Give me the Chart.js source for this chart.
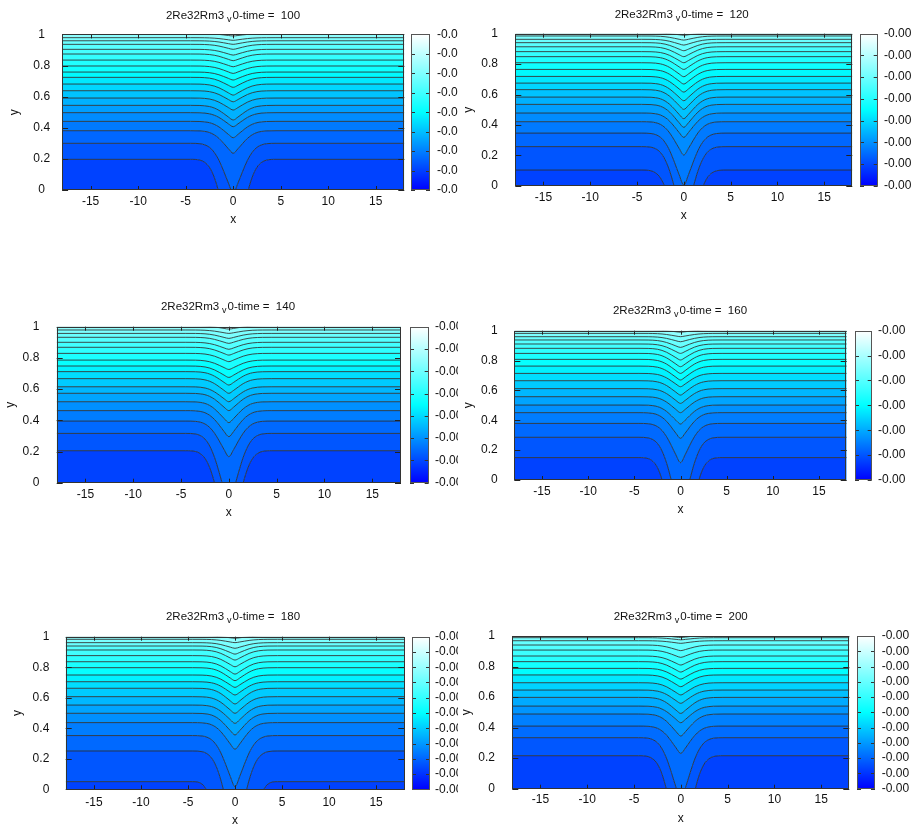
<!DOCTYPE html>
<html>
<head>
<meta charset="utf-8">
<script src="https://cdn.jsdelivr.net/npm/chart.js@4.4.1/dist/chart.umd.min.js"></script>
<style>
  html, body { margin: 0; padding: 0; background: #fff; }
  body { position: relative; width: 912px; height: 825px; overflow: hidden; font-family: "Liberation Sans", Arial, sans-serif; }
  canvas { position: absolute; }
  .title { position: absolute; font-size: 11.5px; color: #111; white-space: pre; transform: translate(-50%, -50%); line-height: 1; }
  .title sub { font-size: 9px; vertical-align: -3px; margin: 0 1px 0 3px; }
</style>
</head>
<body>
<script>
const runName = '2Re32Rm3';
const times = [100, 120, 140, 160, 180, 200];
const xTicks = [-15, -10, -5, 0, 5, 10, 15];
const yTicks = [0, 0.2, 0.4, 0.6, 0.8, 1];

// x positions of the contour points, and how much of the centre dip each point takes
const profileX = [-18, -4.5, -3.5, -3, -2.5, -2, -1.5, -1, -0.5, 0, 0.5, 1, 1.5, 2, 2.5, 3, 3.5, 4.5, 18];
const dipShape = [0, 0, 0.008, 0.03, 0.08, 0.18, 0.34, 0.56, 0.8, 1, 0.8, 0.56, 0.34, 0.18, 0.08, 0.03, 0.008, 0, 0];

// contour levels, bottom to top: y far from the centre and y at x = 0
const edge100 = [0.197, 0.300, 0.381, 0.441, 0.497, 0.544, 0.591, 0.638, 0.681, 0.724, 0.758, 0.797, 0.835, 0.874, 0.904, 0.936, 0.959, 0.979, 1.005];
const centre100 = [-0.44, -0.02, 0.236, 0.336, 0.407, 0.45, 0.514, 0.567, 0.61, 0.66, 0.707, 0.749, 0.792, 0.831, 0.867, 0.904, 0.936, 0.962, 0.99];

const edge120 = [0.103, 0.257, 0.346, 0.421, 0.478, 0.535, 0.583, 0.632, 0.675, 0.719, 0.765, 0.809, 0.849, 0.882, 0.914, 0.941, 0.963, 0.985, 1.005];
const centre120 = [-0.54, -0.22, 0.004, 0.202, 0.318, 0.384, 0.441, 0.502, 0.559, 0.616, 0.669, 0.717, 0.765, 0.809, 0.849, 0.888, 0.925, 0.958, 0.99];

const edge140 = [0.205, 0.316, 0.395, 0.462, 0.519, 0.573, 0.615, 0.667, 0.712, 0.748, 0.786, 0.829, 0.868, 0.9, 0.932, 0.957, 0.979, 1.005];
const centre140 = [-0.4, -0.135, 0.167, 0.295, 0.385, 0.462, 0.519, 0.573, 0.626, 0.675, 0.726, 0.776, 0.818, 0.855, 0.893, 0.925, 0.957, 0.985];

const edge160 = [0.15, 0.286, 0.379, 0.451, 0.502, 0.558, 0.612, 0.665, 0.714, 0.763, 0.808, 0.848, 0.882, 0.911, 0.938, 0.96, 0.982, 1.005];
const centre160 = [-0.68, -0.225, 0.116, 0.279, 0.375, 0.451, 0.513, 0.569, 0.625, 0.67, 0.714, 0.759, 0.804, 0.848, 0.888, 0.926, 0.96, 0.99];

const edge180 = [0.05, 0.251, 0.352, 0.437, 0.498, 0.552, 0.607, 0.662, 0.705, 0.749, 0.797, 0.836, 0.876, 0.913, 0.939, 0.961, 0.983, 1.005];
const centre180 = [-1.95, -0.31, 0.017, 0.262, 0.356, 0.432, 0.498, 0.559, 0.618, 0.668, 0.712, 0.755, 0.803, 0.847, 0.886, 0.924, 0.961, 0.99];

const edge200 = [0.216, 0.334, 0.41, 0.489, 0.541, 0.598, 0.646, 0.694, 0.745, 0.788, 0.832, 0.869, 0.908, 0.941, 0.969, 0.989, 1.005];
const centre200 = [-0.46, -0.075, 0.231, 0.345, 0.432, 0.493, 0.559, 0.614, 0.668, 0.718, 0.764, 0.81, 0.86, 0.904, 0.952, 0.975, 0.99];

// colour bar tick labels (the numbers are cut short in the original)
const cbLabels100 = ['-0.00', '-0.00', '-0.00', '-0.00', '-0.00', '-0.00', '-0.00', '-0.00', '-0.00'];
const cbLabels120 = ['-0.00', '-0.00', '-0.00', '-0.00', '-0.00', '-0.00', '-0.00', '-0.00'];
const cbLabels140 = ['-0.00', '-0.00', '-0.00', '-0.00', '-0.00', '-0.00', '-0.00', '-0.00'];
const cbLabels160 = ['-0.00', '-0.00', '-0.00', '-0.00', '-0.00', '-0.00', '-0.00'];
const cbLabels180 = ['-0.00', '-0.00', '-0.00', '-0.00', '-0.00', '-0.00', '-0.00', '-0.00', '-0.00', '-0.00', '-0.00'];
const cbLabels200 = ['-0.00', '-0.00', '-0.00', '-0.00', '-0.00', '-0.00', '-0.00', '-0.00', '-0.00', '-0.00', '-0.00'];

const paletteStops = [[0, [0, 0, 255]], [0.5, [0, 255, 255]], [1, [255, 255, 255]]];

const FONT = '"Liberation Sans", Arial, sans-serif';
const LH = 12 * 1.2;

const panels = [
  { time: times[0], edge: edge100, centre: centre100, cbLabels: cbLabels100,
    plot: [62.1, 34.4, 404.3, 190], cb: [411, 430], cbText: 437, limit: 458,
    title: [233, 17], xTickY: 202, xLabelY: 220, yLabelX: 15, yTickX: 41.7, yAlign: 'center' },
  { time: times[1], edge: edge120, centre: centre120, cbLabels: cbLabels120,
    plot: [515.3, 33.7, 852.3, 185.7], cb: [860, 877.7], cbText: 884, limit: 912,
    title: [681.7, 15.7], xTickY: 197.7, xLabelY: 216, yLabelX: 469, yTickX: 498, yAlign: 'near' },
  { time: times[2], edge: edge140, centre: centre140, cbLabels: cbLabels140,
    plot: [56.7, 326.7, 401, 482.7], cb: [410, 428.7], cbText: 435, limit: 458,
    title: [228, 308.3], xTickY: 495, xLabelY: 513, yLabelX: 10.7, yTickX: 39.3, yAlign: 'near' },
  { time: times[3], edge: edge160, centre: centre160, cbLabels: cbLabels160,
    plot: [514.3, 330.7, 846.7, 480], cb: [855, 871.7], cbText: 878, limit: 912,
    title: [680, 312.3], xTickY: 491.7, xLabelY: 509.3, yLabelX: 469, yTickX: 497.7, yAlign: 'near' },
  { time: times[4], edge: edge180, centre: centre180, cbLabels: cbLabels180,
    plot: [65.7, 636.7, 404.3, 789.3], cb: [412, 430], cbText: 435, limit: 458,
    title: [233, 618.3], xTickY: 803, xLabelY: 820.7, yLabelX: 18, yTickX: 49.3, yAlign: 'near' },
  { time: times[5], edge: edge200, centre: centre200, cbLabels: cbLabels200,
    plot: [512.3, 636, 849.3, 788.7], cb: [856.7, 875], cbText: 881.7, limit: 912,
    title: [680.7, 618.3], xTickY: 800, xLabelY: 819, yLabelX: 466.7, yTickX: 495, yAlign: 'near' }
];

function paletteRgb(t) {
  t = Math.max(0, Math.min(1, t));
  for (let k = 1; k < paletteStops.length; k++) {
    const [t0, c0] = paletteStops[k - 1];
    const [t1, c1] = paletteStops[k];
    if (t <= t1) {
      const f = (t - t0) / (t1 - t0);
      return `rgb(${c0.map((c, j) => Math.round(c + (c1[j] - c) * f)).join(',')})`;
    }
  }
  return 'rgb(255,255,255)';
}

// gnuplot-like frame: border plus tick marks pointing inwards on every side
const framePlugin = {
  id: 'frame',
  beforeDraw(chart, args, opts) {
    if (!opts || !opts.fill) return;
    const { ctx, chartArea: a } = chart;
    ctx.save();
    ctx.fillStyle = opts.fill;
    ctx.fillRect(a.left, a.top, a.width, a.height);
    ctx.restore();
  },
  afterDatasetsDraw(chart, args, opts) {
    const { ctx, chartArea: a, scales } = chart;
    ctx.save();
    ctx.strokeStyle = opts.color;
    ctx.lineWidth = 1;
    ctx.beginPath();
    if (opts.xLen) {
      scales.x.ticks.forEach(t => {
        const p = Math.round(scales.x.getPixelForValue(t.value)) + 0.5;
        ctx.moveTo(p, a.bottom); ctx.lineTo(p, a.bottom - opts.xLen);
        ctx.moveTo(p, a.top); ctx.lineTo(p, a.top + opts.xLen);
      });
    }
    scales.y.ticks.forEach(t => {
      const p = Math.round(scales.y.getPixelForValue(t.value)) + 0.5;
      ctx.moveTo(a.left, p); ctx.lineTo(a.left + opts.yLen, p);
      ctx.moveTo(a.right, p); ctx.lineTo(a.right - opts.yLen, p);
    });
    ctx.stroke();
    ctx.strokeStyle = opts.border;
    ctx.strokeRect(Math.round(a.left) + 0.5, Math.round(a.top) + 0.5, Math.round(a.width) - 1, Math.round(a.height) - 1);
    ctx.restore();
  }
};

function addCanvas(left, top, w, h) {
  const c = document.createElement('canvas');
  c.width = w;
  c.height = h;
  c.style.left = left + 'px';
  c.style.top = top + 'px';
  c.style.width = w + 'px';
  c.style.height = h + 'px';
  document.body.appendChild(c);
  return c;
}

function addTitle(p) {
  const d = document.createElement('div');
  d.className = 'title';
  d.style.left = p.title[0] + 'px';
  d.style.top = p.title[1] + 'px';
  d.innerHTML = `${runName}<sub>v</sub>0-time =  ${p.time}`;
  document.body.appendChild(d);
}

function drawPanel(p) {
  const [L, T, R, B] = p.plot;
  const tickFont = { family: FONT, size: 12 };
  const yPad = p.yAlign === 'center' ? L - p.yTickX - 8.35 : L - p.yTickX;
  // the y axis asks for (half a label + tick padding) of room above the plot
  const cl = Math.max(0, Math.round(p.yLabelX - 10));
  const ct = Math.floor(T - LH / 2 - yPad) - 2;
  const cw = Math.round(R + 6) - cl;
  const ch = Math.round(p.xLabelY + 10) - ct;
  const yAxisW = L - cl;
  const xAxisH = ch - (B - ct);
  const n = p.edge.length;

  // band below contour i takes a palette position that climbs with i
  const datasets = p.edge.map((e, i) => ({
    data: profileX.map((x, j) => ({ x, y: e - (e - p.centre[i]) * dipShape[j] })),
    borderColor: 'rgba(45,45,45,0.85)',
    borderWidth: 1,
    backgroundColor: paletteRgb(0.13 + i * 0.65 / (n - 1)),
    fill: i === 0 ? 'start' : '-1',
    pointRadius: 0,
    cubicInterpolationMode: 'monotone',
    clip: 0
  }));

  new Chart(addCanvas(cl, ct, cw, ch), {
    type: 'line',
    data: { datasets },
    options: {
      responsive: false,
      animation: false,
      events: [],
      layout: { autoPadding: false, padding: { top: T - ct, right: cw - (R - cl), left: 0, bottom: 0 } },
      plugins: {
        legend: { display: false },
        tooltip: { enabled: false },
        filler: { drawTime: 'beforeDatasetsDraw', propagate: false },
        frame: { fill: paletteRgb(0.88), color: '#222', border: '#333', xLen: 4, yLen: 6 }
      },
      scales: {
        x: {
          type: 'linear', min: -18, max: 18,
          grid: { display: false, drawTicks: false }, border: { display: false },
          afterBuildTicks: s => { s.ticks = xTicks.map(v => ({ value: v })); },
          afterFit: s => { s.height = xAxisH; },
          ticks: { font: tickFont, color: '#111', padding: p.xTickY - B - LH / 2, maxRotation: 0, autoSkip: false, callback: v => String(v) },
          title: { display: true, text: 'x', font: tickFont, color: '#111', padding: { top: 0, bottom: ch - (p.xLabelY - ct) - LH / 2 } }
        },
        y: {
          type: 'linear', min: 0, max: 1,
          grid: { display: false, drawTicks: false }, border: { display: false },
          afterBuildTicks: s => { s.ticks = yTicks.map(v => ({ value: v })); },
          afterFit: s => { s.width = yAxisW; },
          ticks: { font: tickFont, color: '#111', crossAlign: p.yAlign, autoSkip: false, padding: yPad, callback: v => String(v) },
          title: { display: true, text: 'y', font: tickFont, color: '#111', padding: { top: p.yLabelX - cl - LH / 2, bottom: 0 } }
        }
      }
    },
    plugins: [framePlugin]
  });

  // colour bar
  const cbPad = p.cbText - p.cb[1];
  const cbL = Math.round(p.cb[0]);
  const cbT = Math.floor(T - LH / 2 - cbPad) - 2;
  const cbW = p.limit - cbL;
  const cbH = Math.ceil(B + LH / 2 + cbPad) + 2 - cbT;
  const m = p.cbLabels.length;

  new Chart(addCanvas(cbL, cbT, cbW, cbH), {
    type: 'bar',
    data: {
      labels: [''],
      datasets: [{
        data: [[0, m - 1]],
        barPercentage: 1,
        categoryPercentage: 1,
        borderWidth: 0,
        backgroundColor: c => {
          const a = c.chart.chartArea;
          if (!a) return 'blue';
          const g = c.chart.ctx.createLinearGradient(0, a.bottom, 0, a.top);
          paletteStops.forEach(([t, rgb]) => g.addColorStop(t, `rgb(${rgb.join(',')})`));
          return g;
        }
      }]
    },
    options: {
      responsive: false,
      animation: false,
      events: [],
      layout: { autoPadding: false, padding: { top: T - cbT, bottom: cbT + cbH - B, left: p.cb[0] - cbL, right: 0 } },
      plugins: {
        legend: { display: false },
        tooltip: { enabled: false },
        frame: { color: '#333', border: '#555', xLen: 0, yLen: 4 }
      },
      scales: {
        x: { display: false },
        y: {
          position: 'right', min: 0, max: m - 1,
          grid: { display: false, drawTicks: false }, border: { display: false },
          afterBuildTicks: s => { s.ticks = p.cbLabels.map((_, i) => ({ value: i })); },
          afterFit: s => { s.width = cbW - (p.cb[1] - cbL); },
          ticks: { font: tickFont, color: '#111', padding: cbPad, autoSkip: false, callback: (v, i) => p.cbLabels[i] }
        }
      }
    },
    plugins: [framePlugin]
  });

  addTitle(p);
}

panels.forEach(drawPanel);
</script>
</body>
</html>
